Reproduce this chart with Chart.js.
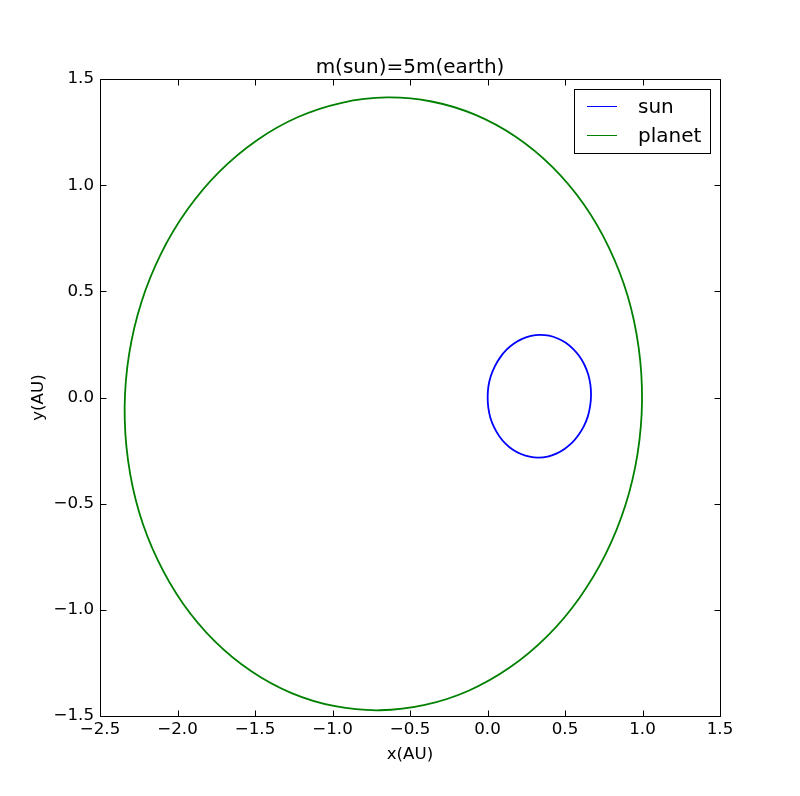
<!DOCTYPE html>
<html>
<head>
<meta charset="utf-8">
<script src="https://cdn.jsdelivr.net/npm/chart.js@4.4.0/dist/chart.umd.min.js"></script>
<style>
html,body{margin:0;padding:0;background:#fff;}
canvas{display:block;}
</style>
</head>
<body>
<canvas id="c" width="800" height="796"></canvas>
<script>
// ---- data ----
const chartTitle = 'm(sun)=5m(earth)';
const xAxisTitle = 'x(AU)';
const yAxisTitle = 'y(AU)';
const seriesLabels = ['sun', 'planet'];
const seriesColors = ['#0000ff', '#008000'];

const sunX = [0.001,0.005,0.019,0.043,0.076,0.116,0.164,0.216,0.272,0.330,0.388,0.444,0.497,0.546,0.587,0.621,0.647,0.662,0.668,0.664,0.650,0.626,0.593,0.552,0.505,0.453,0.397,0.339,0.281,0.224,0.171,0.123,0.082,0.048,0.022,0.006,0.001];
const sunY = [0.003,-0.047,-0.096,-0.141,-0.182,-0.217,-0.246,-0.266,-0.279,-0.283,-0.278,-0.264,-0.242,-0.213,-0.177,-0.136,-0.090,-0.041,0.009,0.059,0.108,0.153,0.194,0.229,0.258,0.278,0.291,0.295,0.290,0.276,0.254,0.225,0.189,0.148,0.102,0.053,0.003];

const planetX = [0.997,0.975,0.904,0.784,0.621,0.418,0.182,-0.081,-0.361,-0.650,-0.940,-1.222,-1.487,-1.728,-1.936,-2.106,-2.233,-2.312,-2.341,-2.319,-2.248,-2.128,-1.965,-1.762,-1.526,-1.264,-0.983,-0.694,-0.404,-0.122,0.143,0.384,0.592,0.762,0.889,0.968,0.997];
const planetY = [-0.014,0.236,0.479,0.705,0.910,1.086,1.228,1.332,1.394,1.413,1.388,1.321,1.212,1.065,0.885,0.678,0.449,0.205,-0.046,-0.296,-0.539,-0.765,-0.970,-1.146,-1.288,-1.392,-1.454,-1.473,-1.448,-1.381,-1.272,-1.125,-0.945,-0.738,-0.509,-0.265,-0.014];

const xTicks = [-2.5,-2.0,-1.5,-1.0,-0.5,0.0,0.5,1.0,1.5];
const yTicks = [-1.5,-1.0,-0.5,0.0,0.5,1.0,1.5];

// ---- chart ----
const FONT = 'DejaVu Sans';
Chart.defaults.font.family = FONT;
Chart.defaults.color = '#000';

// closed orbit: overlap points on each end so the spline is smooth where it closes;
// the two outermost (one-sided) segments are made invisible
const toPts = (xs, ys) => {
  const p = xs.map((v, i) => ({x: v, y: ys[i]}));
  return [...p.slice(-3, -1), ...p, p[1], p[2]];
};
const fmt = v => (v < 0 ? '\u2212' : '') + Math.abs(v).toFixed(1);
const hideEnds = n => ({
  borderColor: c => (c.p0DataIndex === 0 || c.p1DataIndex === n - 1) ? 'rgba(0,0,0,0)' : undefined
});

const framePlugin = {
  id: 'frame',
  afterDatasetsDraw(chart) {
    const {ctx, chartArea: a, scales: {x, y}} = chart;
    const L = Math.round(a.left) + 0.5, R = Math.round(a.right) + 0.5;
    const T = Math.round(a.top) + 0.5, B = Math.round(a.bottom) + 0.5;
    const tl = 6;
    ctx.save();
    ctx.strokeStyle = '#000';
    ctx.lineWidth = 1;
    ctx.beginPath();
    ctx.rect(L, T, R - L, B - T);
    xTicks.forEach(v => {
      const px = Math.round(x.getPixelForValue(v)) + 0.5;
      ctx.moveTo(px, B); ctx.lineTo(px, B - tl);
      ctx.moveTo(px, T); ctx.lineTo(px, T + tl);
    });
    yTicks.forEach(v => {
      const py = Math.round(y.getPixelForValue(v)) + 0.5;
      ctx.moveTo(L, py); ctx.lineTo(L + tl, py);
      ctx.moveTo(R, py); ctx.lineTo(R - tl, py);
    });
    ctx.stroke();

    // title centred over the plot area
    ctx.fillStyle = '#000';
    ctx.font = '20px "' + FONT + '"';
    ctx.textAlign = 'center';
    ctx.textBaseline = 'middle';
    ctx.fillText(chartTitle, (a.left + a.right) / 2, a.top - 11.5);

    // legend inside the plot (upper right)
    const w = 136, h = 64;
    const lx = Math.round(a.right) - 10 - w, ly = Math.round(a.top) + 10;
    ctx.fillStyle = '#fff';
    ctx.fillRect(lx, ly, w, h);
    ctx.strokeStyle = '#000';
    ctx.strokeRect(lx + 0.5, ly + 0.5, w, h);
    ctx.textAlign = 'left';
    ctx.textBaseline = 'alphabetic';
    chart.data.datasets.forEach((ds, i) => {
      const cy = Math.round(ly + 17 + i * 28.5) + 0.5;
      ctx.strokeStyle = ds.borderColor;
      ctx.lineWidth = 1;
      ctx.beginPath();
      ctx.moveTo(lx + 13, cy); ctx.lineTo(lx + 43, cy);
      ctx.stroke();
      ctx.fillStyle = '#000';
      ctx.fillText(ds.label, lx + 64, ly + 23.5 + i * 29);
    });
    ctx.restore();
  }
};

const sunPts = toPts(sunX, sunY);
const planetPts = toPts(planetX, planetY);

new Chart(document.getElementById('c'), {
  type: 'scatter',
  data: {
    datasets: [
      {label: seriesLabels[0], data: sunPts, borderColor: seriesColors[0], backgroundColor: seriesColors[0], segment: hideEnds(sunPts.length)},
      {label: seriesLabels[1], data: planetPts, borderColor: seriesColors[1], backgroundColor: seriesColors[1], segment: hideEnds(planetPts.length)}
    ].map(d => Object.assign(d, {showLine: true, pointRadius: 0, borderWidth: 1.8, tension: 0.4, fill: false}))
  },
  options: {
    responsive: false,
    animation: false,
    layout: {padding: {left: 0, right: 80, top: 79, bottom: 0}},
    plugins: {
      legend: {display: false},
      tooltip: {enabled: false},
      title: {display: false}
    },
    scales: {
      x: {
        type: 'linear', min: -2.5, max: 1.5,
        grid: {display: false, drawTicks: false}, border: {display: false},
        afterBuildTicks: s => { s.ticks = xTicks.map(v => ({value: v})); },
        afterFit: s => { s.height = 80; },
        ticks: {padding: 4, color: '#000', font: {size: 16.7}, callback: v => fmt(v), maxRotation: 0, autoSkip: false},
        title: {display: true, text: xAxisTitle, color: '#000', font: {size: 16.7}, padding: {top: 0, bottom: 31}}
      },
      y: {
        type: 'linear', min: -1.5, max: 1.5,
        grid: {display: false, drawTicks: false}, border: {display: false},
        afterBuildTicks: s => { s.ticks = yTicks.map(v => ({value: v})); },
        afterFit: s => { s.width = 100; },
        ticks: {padding: 6, color: '#000', font: {size: 16.7}, callback: v => fmt(v), autoSkip: false},
        title: {display: true, text: yAxisTitle, color: '#000', font: {size: 16.7}, padding: {top: 29, bottom: 0}}
      }
    }
  },
  plugins: [framePlugin]
});
</script>
</body>
</html>
